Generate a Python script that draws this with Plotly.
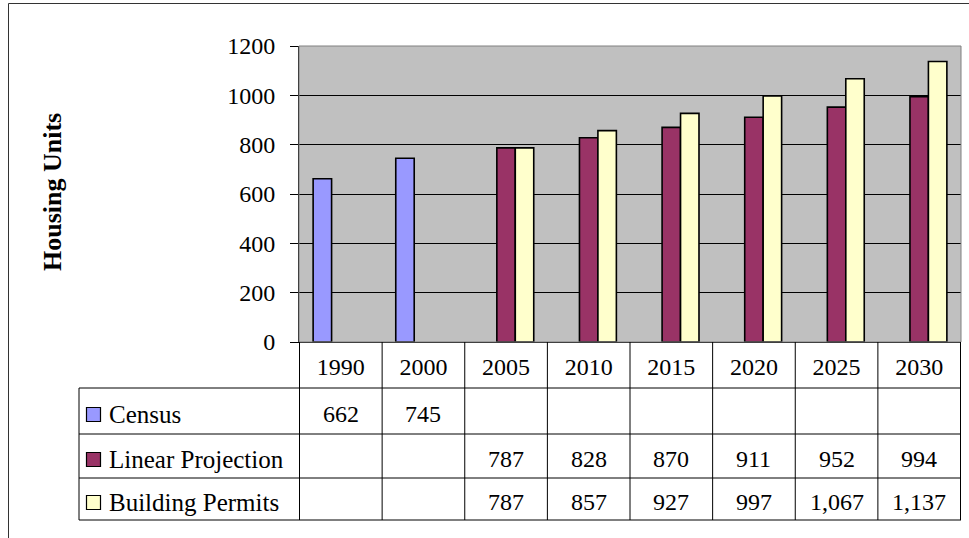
import plotly.graph_objects as go

# ---- data ----
years = ["1990", "2000", "2005", "2010", "2015", "2020", "2025", "2030"]
census = [662, 745, None, None, None, None, None, None]
linear_projection = [None, None, 787, 828, 870, 911, 952, 994]
building_permits = [None, None, 787, 857, 927, 997, 1067, 1137]
series_names = ["Census", "Linear Projection", "Building Permits"]
series_colors = ["#9999FF", "#993366", "#FFFFCC"]
y_ticks = [0, 200, 400, 600, 800, 1000, 1200]

series_values = [census, linear_projection, building_permits]

# ---- layout constants (pixels) ----
W, H = 969, 538
ML, MR, MT, MB = 299, 8, 46, 196
FONT = "'Times New Roman', 'Liberation Serif', 'DejaVu Serif', serif"
FS = 24


def px_x(px):
    return (px - ML) / (W - ML - MR)


def px_y(py):
    return (H - MB - py) / (H - MT - MB)


fig = go.Figure()
for name, vals, col in zip(series_names, series_values, series_colors):
    fig.add_trace(go.Bar(
        x=years, y=vals, name=name,
        marker=dict(color=col, line=dict(color="black", width=1.6)),
        showlegend=False,
    ))

shapes = []
annotations = []

# plot-area frame (grey)
shapes.append(dict(type="rect", xref="paper", yref="paper", x0=0, x1=1, y0=0, y1=1,
                   line=dict(color="#808080", width=1), layer="above"))
# outer chart border
shapes.append(dict(type="line", xref="paper", yref="paper",
                   x0=px_x(8.5), x1=px_x(8.5), y0=px_y(540), y1=px_y(3.5),
                   line=dict(color="#333333", width=1)))
shapes.append(dict(type="line", xref="paper", yref="paper",
                   x0=px_x(8.5), x1=px_x(970), y0=px_y(3.5), y1=px_y(3.5),
                   line=dict(color="#333333", width=1)))

# data table geometry
row_lines = [388, 434, 478, 520]
table_left = 79
table_bottom = row_lines[-1]

# vertical lines at category boundaries
n = len(years)
for i in range(n + 1):
    shapes.append(dict(type="line", xref="x", yref="paper",
                       x0=i - 0.5, x1=i - 0.5, y0=0, y1=px_y(table_bottom),
                       line=dict(color="black", width=1)))
# left border of legend column
shapes.append(dict(type="line", xref="paper", yref="paper",
                   x0=px_x(table_left), x1=px_x(table_left),
                   y0=px_y(row_lines[0]), y1=px_y(table_bottom),
                   line=dict(color="black", width=1)))
# horizontal row lines
for r in row_lines:
    shapes.append(dict(type="line", xref="paper", yref="paper",
                       x0=px_x(table_left), x1=1, y0=px_y(r), y1=px_y(r),
                       line=dict(color="black", width=1)))

# rows: legend keys, names and values
for k, (name, vals, col) in enumerate(zip(series_names, series_values, series_colors)):
    top, bot = row_lines[k], row_lines[k + 1]
    cy = (top + bot) / 2
    shapes.append(dict(type="rect", xref="paper", yref="paper",
                       x0=px_x(86.5), x1=px_x(100.5), y0=px_y(cy + 3.5 + 7), y1=px_y(cy + 3.5 - 7),
                       fillcolor=col, line=dict(color="black", width=1.2)))
    annotations.append(dict(text=name, xref="paper", yref="paper",
                            x=px_x(107), y=px_y(cy + 3), xanchor="left", yanchor="middle",
                            showarrow=False, font=dict(family=FONT, size=25, color="black")))
    for i, v in enumerate(vals):
        if v is None:
            continue
        annotations.append(dict(text=f"{v:,}", xref="x", yref="paper",
                                x=i, y=px_y(cy + 3), xanchor="center", yanchor="middle",
                                showarrow=False, font=dict(family=FONT, size=FS, color="black")))

# y axis title
annotations.append(dict(text="<b>Housing Units</b>", xref="paper", yref="paper",
                        x=px_x(52), y=px_y(192), xanchor="center", yanchor="middle",
                        textangle=-90, showarrow=False,
                        font=dict(family=FONT, size=26, color="black")))

fig.update_layout(
    width=W, height=H,
    margin=dict(l=ML, r=MR, t=MT, b=MB),
    paper_bgcolor="white", plot_bgcolor="#C0C0C0",
    barmode="group", bargap=0.33, bargroupgap=0,
    font=dict(family=FONT, size=FS, color="black"),
    shapes=shapes, annotations=annotations,
    xaxis=dict(type="category", showgrid=False, showline=True, linecolor="black", linewidth=1,
               ticks="", tickfont=dict(family=FONT, size=FS, color="black"),
               ticklabelstandoff=3, fixedrange=True),
    yaxis=dict(range=[0, 1200], tickvals=y_ticks, showgrid=True, gridcolor="black", gridwidth=1,
               showline=True, linecolor="black", linewidth=1, ticks="outside", ticklen=8,
               tickcolor="black", ticklabelstandoff=10, zeroline=False,
               tickfont=dict(family=FONT, size=FS, color="black"), fixedrange=True),
)

fig.write_html("out.html")
